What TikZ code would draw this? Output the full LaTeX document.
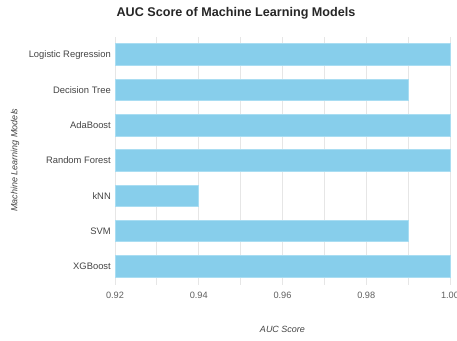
\documentclass[tikz,border=0pt]{standalone}
\usepackage{fontspec}
\setmainfont{Liberation Sans}
\definecolor{barfill}{HTML}{87CEEB}
\definecolor{baredge}{HTML}{A9DDF2}
\definecolor{gridc}{HTML}{E6E6E6}
\definecolor{labc}{HTML}{444444}
\begin{document}
\begin{tikzpicture}[x=1pt,y=-1pt,
  bar/.style={fill=barfill,draw=baredge,line width=0.8pt},
  gridline/.style={draw=gridc,line width=0.8pt},
  catlabel/.style={anchor=east,inner sep=0pt,text=labc,font=\fontsize{9.4}{10}\selectfont},
  ticklabel/.style={anchor=center,inner sep=0pt,text=labc!85,font=\fontsize{9.2}{10}\selectfont},
  axlabel/.style={inner sep=0pt,text=labc,font=\fontsize{9}{10}\selectfont\itshape}]
\useasboundingbox (0,0) rectangle (457,340);
\fill[white] (0,0) rectangle (457,340);
% gridlines
\foreach \i in {0,...,8}{
  \draw[gridline] ({115+\i*41.875},37) -- ({115+\i*41.875},285);
}
% bars: value -> x = 115 + (v-0.92)*4187.5
\newcommand{\barrow}[4]{%
  \draw[bar] (115,{#1-10.8}) rectangle ({115+(#2-0.92)*4187.5},{#1+10.8});
  \node[catlabel] (#4) at (111,#1) {#3};}
\barrow{54.6}{1.00}{Logistic Regression}{lr}
\barrow{89.8}{0.99}{Decision Tree}{dt}
\barrow{125.1}{1.00}{AdaBoost}{ab}
\barrow{160.4}{1.00}{Random Forest}{rf}
\barrow{195.7}{0.94}{kNN}{knn}
\barrow{231.0}{0.99}{SVM}{svm}
\barrow{266.6}{1.00}{XGBoost}{xgb}
% tick labels
\node[ticklabel] (t1) at (115,295) {0.92};
\node[ticklabel] (t2) at (198.75,295) {0.94};
\node[ticklabel] (t3) at (282.5,295) {0.96};
\node[ticklabel] (t4) at (366.25,295) {0.98};
\node[ticklabel] (t5) at (450,295) {1.00};
% axis labels
\node[axlabel] (xl) at (282.5,329) {AUC Score};
\node[axlabel,rotate=90] (yl) at (15,160) {Machine Learning Models};
% title
\node[inner sep=0pt,text=black!85,font=\fontsize{12.6}{14}\selectfont\bfseries] (title) at (236,13.5) {AUC Score of Machine Learning Models};
\end{tikzpicture}
\end{document}
